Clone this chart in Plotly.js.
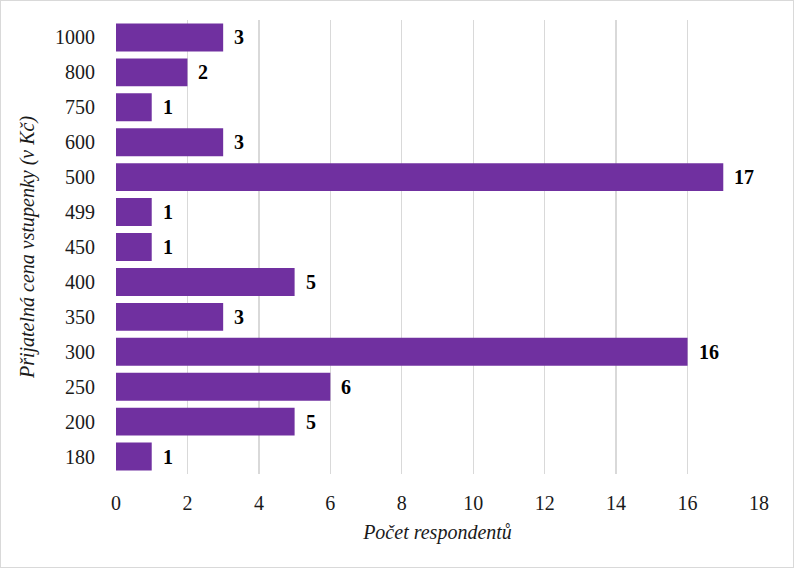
<!DOCTYPE html>
<html>
<head>
<meta charset="utf-8">
<script src="https://cdn.plot.ly/plotly-3.0.1.min.js"></script>
<style>
html,body{margin:0;padding:0;background:#fff;}
#wrap{position:relative;width:794px;height:568px;}
#chart{width:794px;height:568px;}
#frame{position:absolute;left:0;top:0;width:792px;height:566px;border:1px solid #d9d9d9;pointer-events:none;}
</style>
</head>
<body>
<div id="wrap"><div id="chart"></div><div id="frame"></div></div>
<script>
const categories = ["180","200","250","300","350","400","450","499","500","600","750","800","1000"];
const counts = [1,5,6,16,3,5,1,1,17,3,1,2,3];
const xTitle = "Počet respondentů";
const yTitle = "Přijatelná cena vstupenky (v Kč)";

const font = "Liberation Serif, Times New Roman, serif";
const trace = {
  type: "bar",
  orientation: "h",
  x: counts,
  y: categories,
  marker: {color: "#7030A0"},
  hoverinfo: "x+y"
};
const annotations = categories.map((c, i) => ({
  x: counts[i], y: i, xref: "x", yref: "y",
  text: "<b>" + counts[i] + "</b>",
  showarrow: false, xanchor: "left", yanchor: "middle", xshift: 9,
  font: {family: font, size: 20, color: "#000"}
}));
const layout = {
  width: 794, height: 568,
  margin: {l: 116, r: 35, t: 20, b: 94},
  paper_bgcolor: "#fff", plot_bgcolor: "#fff",
  showlegend: false,
  bargap: 0.2,
  font: {family: font, size: 20, color: "#1a1a1a"},
  xaxis: {
    range: [0, 18], dtick: 2, tick0: 0,
    showgrid: true, gridcolor: "#d9d9d9", gridwidth: 1.3,
    zeroline: false, showline: false,
    ticks: "outside", ticklen: 11, tickcolor: "rgba(0,0,0,0)",
    tickfont: {family: font, size: 20, color: "#1a1a1a"},
    title: {text: xTitle, font: {family: font, size: 20, color: "#1a1a1a", style: "italic"}, standoff: 11}
  },
  yaxis: {
    type: "category", categoryorder: "array", categoryarray: categories,
    range: [-0.5, categories.length - 0.5],
    showgrid: false, zeroline: false, showline: false,
    ticks: "outside", ticklen: 16, tickcolor: "rgba(0,0,0,0)",
    tickfont: {family: font, size: 20, color: "#1a1a1a"},
    title: {text: yTitle, font: {family: font, size: 20, color: "#1a1a1a", style: "italic"}, standoff: 15}
  },
  annotations: annotations
};
Plotly.newPlot("chart", [trace], layout, {displayModeBar: false, staticPlot: true});
</script>
</body>
</html>
